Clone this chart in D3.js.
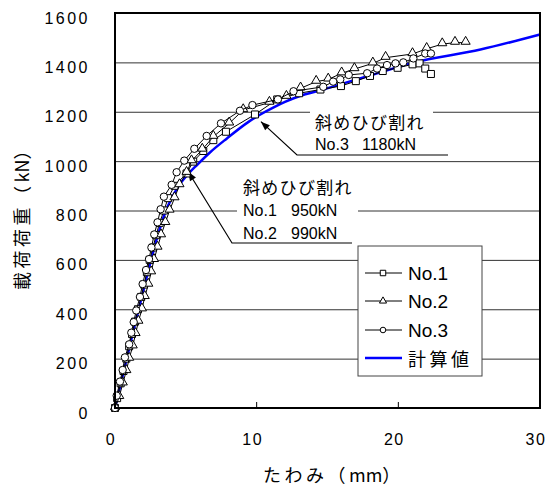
<!DOCTYPE html>
<html>
<head>
<meta charset="utf-8">
<script src="https://cdn.jsdelivr.net/npm/d3@7"></script>
<style>
  body { margin: 0; background: #fff; }
  svg { display: block; }
  .num { font-family: "Liberation Sans", Arial, sans-serif; fill: #000; }
  .jp { font-family: "Noto Sans CJK JP", sans-serif; fill: #000; }
</style>
</head>
<body>
<svg id="chart" width="547" height="490"></svg>
<script>
// load vs deflection: [deflection mm, load kN]
const no1 = [[0,0],[0.15,40],[0.4,100],[0.6,150],[0.8,200],[1.0,250],[1.2,300],[1.42,350],[1.62,400],
  [1.85,450],[2.05,500],[2.25,550],[2.45,600],[2.68,650],[2.9,700],[3.15,750],[3.45,800],[3.75,850],
  [4.2,900],[5.05,950],[5.52,998],[6.23,1041],[6.94,1085],[7.83,1119],[9.88,1189],[11.45,1250],
  [13.0,1275],[14.5,1290],[15.95,1304],[17.0,1324],[18.0,1345],[18.9,1365],[19.95,1378],[21.0,1392],
  [21.5,1396],[21.9,1375],[22.3,1353]];
const no2 = [[0,0],[0.3,45],[0.55,100],[0.8,150],[1.0,200],[1.25,250],[1.45,300],[1.65,350],[1.9,400],
  [2.1,450],[2.35,500],[2.55,550],[2.75,600],[3.0,650],[3.25,700],[3.55,750],[3.85,800],[4.2,850],
  [4.55,903],[5.05,953],[5.4,1000],[6.16,1047],[6.94,1099],[8.06,1153],[9.05,1207],[10.9,1237],
  [12.1,1261],[13.1,1295],[14.2,1322],[15.05,1331],[16.0,1356],[16.9,1373],[18.2,1396],[19.1,1419],
  [21.0,1434],[22.0,1455],[23.1,1474],[24.0,1480],[24.75,1480]];
const no3 = [[0,0],[0.12,50],[0.35,107],[0.54,154],[0.7,205],[1.0,258],[1.15,305],[1.32,348],[1.5,395],
  [1.76,450],[1.95,502],[2.19,559],[2.4,603],[2.57,650],[2.77,703],[3.0,752],[3.22,805],[3.45,856],
  [4.0,904],[4.35,955],[4.89,1002],[5.6,1050],[6.47,1102],[7.48,1153],[8.82,1204],[9.7,1227],
  [11.5,1250],[12.6,1283],[14.7,1301],[15.4,1322],[15.9,1331],[16.5,1349],[17.8,1356],[18.5,1375],
  [19.2,1389],[19.8,1396],[20.35,1400],[21.06,1416],[21.9,1436],[22.3,1436]];
const calc = [[0,0],[0.5,120],[1,240],[1.5,360],[2,475],[2.5,590],[3,695],[3.5,785],[4,850],[4.5,900],
  [5.2,950],[5.8,985],[6.7,1035],[7.9,1092],[9.4,1158],[10.2,1187],[11.2,1218],[12,1240],[13,1263],
  [14.7,1290],[16.3,1318],[18.2,1350],[21,1398],[25.8,1452],[30,1513]];

const xTicks = [0, 10, 20, 30];
const yTicks = [0, 200, 400, 600, 800, 1000, 1200, 1400, 1600];
const seriesNames = ["No.1", "No.2", "No.3", "計算値"];

// crack annotations: [text lines, point the arrow goes to]
const crack1 = ["斜めひび割れ", "No.1", "950kN", "No.2", "990kN"];
const crack1Pt = [5.17, 957];
const crack2 = ["斜めひび割れ", "No.3", "1180kN"];
const crack2Pt = [10.3, 1160];

const margin = { top: 13, right: 7, bottom: 82, left: 115 };
const width = 547 - margin.left - margin.right;
const height = 490 - margin.top - margin.bottom;

const svg = d3.select("#chart");
const g = svg.append("g").attr("transform", `translate(${margin.left},${margin.top})`);

const x = d3.scaleLinear().domain([0, 30]).range([0, width]);
const y = d3.scaleLinear().domain([0, 1600]).range([height, 0]);

// gridlines
g.append("g")
  .call(d3.axisLeft(y).tickValues(yTicks.slice(1, -1)).tickSize(-width).tickFormat(""))
  .call(s => s.select(".domain").remove())
  .selectAll("line").attr("stroke", "#333").attr("stroke-width", 1);

// y tick labels
g.append("g")
  .call(d3.axisLeft(y).tickValues(yTicks).tickSize(0).tickPadding(25).tickFormat(d3.format("d")))
  .call(s => s.select(".domain").remove())
  .selectAll("text")
  .attr("class", "num")
  .attr("dy", null).attr("y", 10)
  .style("font-size", "16px").style("letter-spacing", "2.5px");

// x tick labels
g.append("g")
  .attr("transform", `translate(0,${height})`)
  .call(d3.axisBottom(x).tickValues(xTicks).tickSize(0).tickPadding(0).tickFormat(d3.format("d")))
  .call(s => s.select(".domain").remove())
  .selectAll("text")
  .attr("class", "num")
  .attr("dy", null).attr("y", 37).attr("x", -4.5)
  .style("font-size", "16px").style("letter-spacing", "1.5px");

// inner ticks on the bottom axis
g.append("g")
  .selectAll("line")
  .data(xTicks.slice(1, -1))
  .join("line")
  .attr("x1", d => x(d)).attr("x2", d => x(d))
  .attr("y1", height).attr("y2", height - 6)
  .attr("stroke", "#000");

// axis titles
const xTitle = svg.append("text").attr("class", "jp")
  .attr("x", 263).attr("y", 482)
  .style("font-size", "18px");
xTitle.append("tspan").style("letter-spacing", "3.5px").text("たわみ（");
xTitle.append("tspan").style("letter-spacing", "0px").text("mm");
xTitle.append("tspan").text("）");

const yTitle = svg.append("text").attr("class", "jp")
  .attr("transform", "translate(29,290) rotate(-90)")
  .style("font-size", "18px");
yTitle.append("tspan").style("letter-spacing", "3.5px").text("載荷荷重（");
yTitle.append("tspan").style("letter-spacing", "0px").text("kN");
yTitle.append("tspan").text("）");

// annotation 1
const ann = g.append("g");
ann.append("rect").attr("x", 237 - margin.left).attr("y", 176 - margin.top)
  .attr("width", 121).attr("height", 64).attr("fill", "#fff");
ann.append("text").attr("class", "jp").attr("x", 243 - margin.left).attr("y", 194 - margin.top)
  .style("font-size", "17px").style("letter-spacing", "1.3px").text(crack1[0]);
[[crack1[1], crack1[2], 216], [crack1[3], crack1[4], 239]].forEach(([a, b, yy]) => {
  ann.append("text").attr("class", "num").attr("x", 243 - margin.left).attr("y", yy - margin.top)
    .style("font-size", "16px").text(a);
  ann.append("text").attr("class", "num").attr("x", 291 - margin.left).attr("y", yy - margin.top)
    .style("font-size", "16px").text(b);
});
ann.append("polyline")
  .attr("points", [[x(crack1Pt[0]), y(crack1Pt[1])], [232 - margin.left, 243 - margin.top], [352 - margin.left, 243 - margin.top]].join(" "))
  .attr("fill", "none").attr("stroke", "#000").attr("stroke-width", 1.2);

// annotation 2
ann.append("rect").attr("x", 310 - margin.left).attr("y", 110 - margin.top)
  .attr("width", 123).attr("height", 42).attr("fill", "#fff");
ann.append("text").attr("class", "jp").attr("x", 315 - margin.left).attr("y", 129 - margin.top)
  .style("font-size", "17px").style("letter-spacing", "1.3px").text(crack2[0]);
ann.append("text").attr("class", "num").attr("x", 315 - margin.left).attr("y", 150 - margin.top)
  .style("font-size", "16px").text(crack2[1]);
ann.append("text").attr("class", "num").attr("x", 362 - margin.left).attr("y", 150 - margin.top)
  .style("font-size", "16px").text(crack2[2]);
ann.append("polyline")
  .attr("points", [[x(crack2Pt[0]), y(crack2Pt[1])], [297 - margin.left, 155 - margin.top], [448 - margin.left, 155 - margin.top]].join(" "))
  .attr("fill", "none").attr("stroke", "#000").attr("stroke-width", 1.2);

// arrow heads
function arrowHead(p, q) {
  const a = Math.atan2(p[1] - q[1], p[0] - q[0]) * 180 / Math.PI;
  ann.append("path")
    .attr("d", "M0,0L-9,-3.5L-9,3.5Z")
    .attr("transform", `translate(${p[0]},${p[1]}) rotate(${a})`)
    .attr("fill", "#000");
}
arrowHead([x(crack1Pt[0]), y(crack1Pt[1])], [232 - margin.left, 243 - margin.top]);
arrowHead([x(crack2Pt[0]), y(crack2Pt[1])], [297 - margin.left, 155 - margin.top]);

// calculated curve
const line = d3.line().x(d => x(d[0])).y(d => y(d[1]));
g.append("path")
  .datum(calc)
  .attr("d", line.curve(d3.curveMonotoneX))
  .attr("fill", "none").attr("stroke", "#0000ff").attr("stroke-width", 2.5);

// measured series
const sq = d3.symbol().type(d3.symbolSquare).size(49);
const tri = d3.symbol().type(d3.symbolTriangle).size(36);
const series = [
  { data: no1, sym: sq, dy: 0 },
  { data: no2, sym: tri, dy: -1 },
  { data: no3, sym: null, dy: 0 }
];
const lineStraight = d3.line().x(d => x(d[0])).y(d => y(d[1]));
series.forEach(s => {
  const sg = g.append("g");
  sg.append("path").datum(s.data).attr("d", lineStraight)
    .attr("fill", "none").attr("stroke", "#000").attr("stroke-width", 1);
  if (s.sym) {
    sg.selectAll("path.m").data(s.data).join("path").attr("class", "m")
      .attr("d", s.sym)
      .attr("transform", d => `translate(${x(d[0])},${y(d[1]) + s.dy})`)
      .attr("fill", "#fff").attr("stroke", "#000").attr("stroke-width", 1);
  } else {
    sg.selectAll("circle").data(s.data).join("circle")
      .attr("cx", d => x(d[0])).attr("cy", d => y(d[1])).attr("r", 3.7)
      .attr("fill", "#fff").attr("stroke", "#000").attr("stroke-width", 1);
  }
});

// plot frame
g.append("rect").attr("width", width).attr("height", height)
  .attr("fill", "none").attr("stroke", "#000").attr("stroke-width", 2);

// legend
const leg = svg.append("g").attr("transform", "translate(358,246)");
leg.append("rect").attr("width", 124).attr("height", 130)
  .attr("fill", "#fff").attr("stroke", "#444").attr("stroke-width", 1);
const legY = [27, 55, 84, 112];
const legSym = [sq.size(30), tri.size(22), null, null];
seriesNames.forEach((name, i) => {
  const row = leg.append("g").attr("transform", `translate(0,${legY[i]})`);
  row.append("line").attr("x1", 7).attr("x2", 44)
    .attr("stroke", i === 3 ? "#0000ff" : "#000").attr("stroke-width", i === 3 ? 2.5 : 1);
  if (i < 2) {
    row.append("path").attr("d", legSym[i]).attr("transform", "translate(25,0)")
      .attr("fill", "#fff").attr("stroke", "#000");
  } else if (i === 2) {
    row.append("circle").attr("cx", 25).attr("r", 2.8).attr("fill", "#fff").attr("stroke", "#000");
  }
  row.append("text")
    .attr("class", i === 3 ? "jp" : "num")
    .attr("x", 50).attr("y", i === 3 ? 8 : 7)
    .style("font-size", i === 3 ? "18px" : "19px")
    .style("letter-spacing", i === 3 ? "3.5px" : "0px")
    .text(name);
});
</script>
</body>
</html>
